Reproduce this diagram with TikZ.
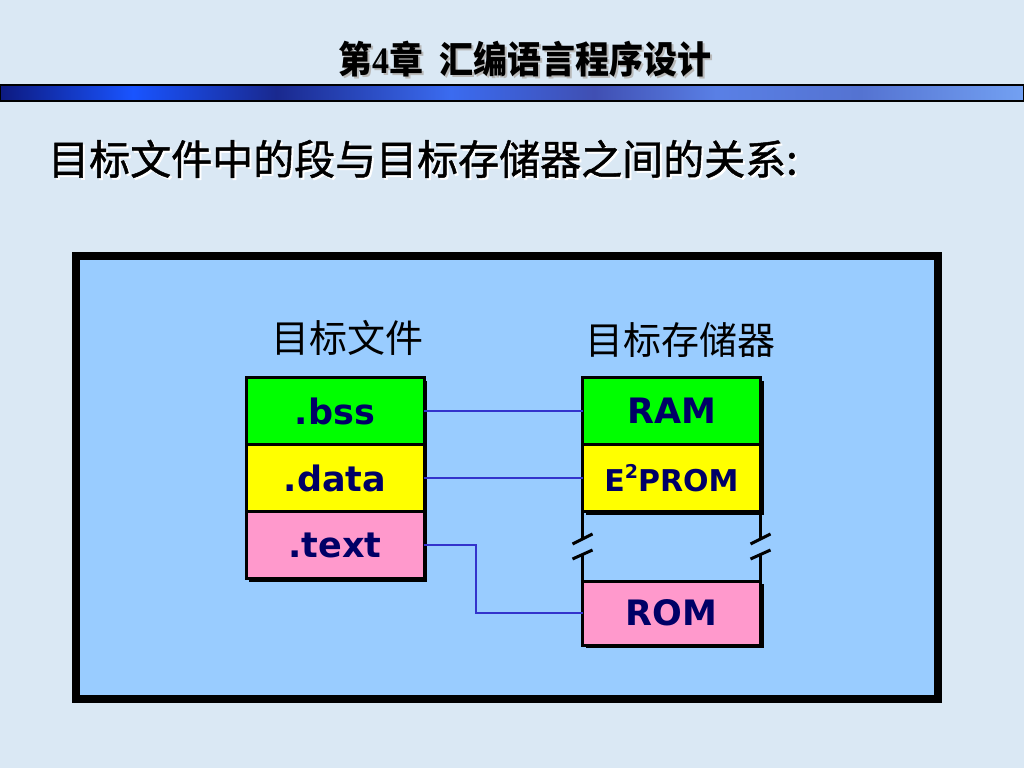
\documentclass[tikz,border=0pt]{standalone}
\usepackage{fontspec}
\setmainfont{DejaVu Sans}
\newfontfamily\cjk{Noto Sans CJK SC}
\newfontfamily\cjkh[FakeBold=1.2]{Noto Sans CJK SC}
\newfontfamily\serifdigit{Liberation Serif}
\newfontfamily\vsans{DejaVu Sans}
\usetikzlibrary{shadows}
\definecolor{bg}{HTML}{DAE8F4}
\definecolor{panel}{HTML}{99CCFF}
\definecolor{navy}{HTML}{000066}
\definecolor{conn}{HTML}{3333CC}
\definecolor{segG}{HTML}{00FF00}
\definecolor{segY}{HTML}{FFFF00}
\definecolor{segP}{HTML}{FF99CC}
\definecolor{ba}{rgb}{0.05,0.10,0.50}
\definecolor{bb}{rgb}{0.10,0.33,1.00}
\definecolor{bc}{rgb}{0.10,0.16,0.56}
\definecolor{bd}{rgb}{0.23,0.42,0.94}
\definecolor{be}{rgb}{0.25,0.31,0.70}
\definecolor{bf}{rgb}{0.35,0.50,0.90}
\definecolor{bg2}{rgb}{0.33,0.45,0.82}
\definecolor{bh}{rgb}{0.45,0.63,0.95}
\pgfdeclarehorizontalshading{barshade}{100bp}{color(0bp)=(ba); color(25bp)=(ba); color(31.5bp)=(bb); color(38.5bp)=(bc); color(47bp)=(bd); color(54bp)=(be); color(60bp)=(bf); color(67bp)=(bg2); color(75bp)=(bh); color(100bp)=(bh)}
\tikzset{
  seg/.style={draw=black, line width=3pt, outer sep=0pt, inner sep=0pt,
    minimum width=178pt, minimum height=67pt, text=navy,
    font=\vsans\bfseries\fontsize{35}{35}\selectfont,
    drop shadow={shadow xshift=3pt, shadow yshift=-3pt, fill=black, opacity=1}},
  conn/.style={draw=conn, line width=2.5pt},
  edge/.style={draw=black, line width=3pt},
  lbl/.style={font=\cjk\fontsize{38}{38}\selectfont, text=black, inner sep=0pt}
}
\begin{document}
\begin{tikzpicture}[x=1pt,y=-1pt]
\useasboundingbox (0,0) rectangle (1024,768);
\fill[bg] (0,0) rectangle (1024,768);
% title
\node[font=\cjk\bfseries\fontsize{34}{34}\selectfont, text=gray!55, inner sep=0pt, yscale=1.1] (titles) at (527,61) {第{\serifdigit 4}章\hspace{0.45em}汇编语言程序设计};
\node[font=\cjk\bfseries\fontsize{34}{34}\selectfont, text=black, inner sep=0pt, yscale=1.1] (title) at (525,59) {第{\serifdigit 4}章\hspace{0.45em}汇编语言程序设计};
% bar
\shade[shading=barshade, draw=black, line width=1.2pt] (0,85) rectangle (1024,101);
% heading
\node[anchor=west, font=\cjkh\fontsize{41}{41}\selectfont, text=white, inner sep=0pt] (heads) at (50,161) {目标文件中的段与目标存储器之间的关系:};
\node[anchor=west, font=\cjkh\fontsize{41}{41}\selectfont, text=black, inner sep=0pt] (head) at (48,159) {目标文件中的段与目标存储器之间的关系:};
% panel
\draw[fill=panel, line width=8pt] (76,256) rectangle (938,699);
% labels
\node[lbl] (lfile) at (347,338) {目标文件};
\node[lbl] (lmem) at (680,340) {目标存储器};
% left stack
\node[seg, fill=segG] (bss) at (335,411) {.bss};
\node[seg, fill=segY] (data) at (335,478) {.data};
\node[seg, fill=segP] (text) at (335,545) {.text};
% right stack
\node[seg, fill=segG] (RAM) at (671.5,411) {RAM};
\node[seg, fill=segY, font=\vsans\bfseries\fontsize{30}{30}\selectfont] (E2) at (671.5,478) {E\raisebox{0.42em}{\fontsize{19}{19}\selectfont 2}PROM};
\node[seg, fill=segP, minimum height=64pt] (ROM) at (671.5,613) {ROM};
% connectors
\draw[conn] (bss.east) -- (RAM.west);
\draw[conn] (data.east) -- (E2.west);
\draw[conn] (text.east) -- ++(52,0) |- (ROM.west);
% gap with break marks
\draw[edge] (E2.south west) -- ++(0,26);
\draw[edge] (ROM.north west) -- ++(0,-26);
\draw[edge] (E2.south east) -- ++(0,26);
\draw[edge] (ROM.north east) -- ++(0,-26);
\draw[edge] (E2.south west) ++(-10,32.5) -- ++(20,-10);
\draw[edge] (E2.south west) ++(-10,47.5) -- ++(20,-9);
\draw[edge] (E2.south east) ++(-10,32.5) -- ++(20,-10);
\draw[edge] (E2.south east) ++(-10,47.5) -- ++(20,-9);
\end{tikzpicture}
\end{document}
